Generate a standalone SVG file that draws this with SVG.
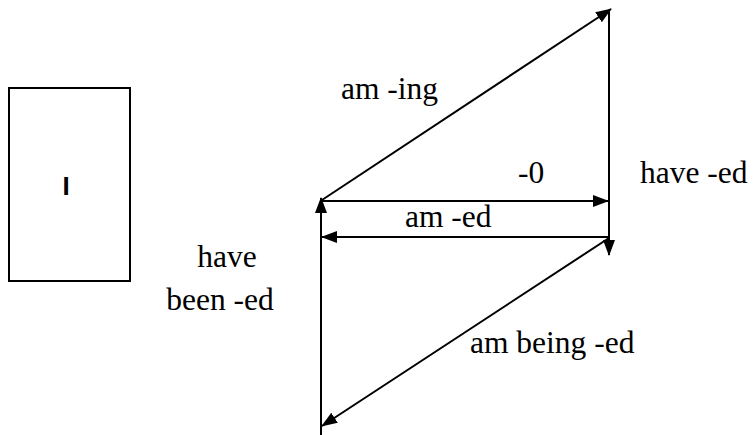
<svg xmlns="http://www.w3.org/2000/svg" width="754" height="435" viewBox="0 0 754 435">
<defs>
<marker id="ah" markerUnits="userSpaceOnUse" markerWidth="16" markerHeight="12" refX="15" refY="6" orient="auto">
<path d="M0,0 L16,6 L0,12 z" fill="#000"/>
</marker>
<style>
.c{stroke:#000;stroke-width:2;fill:none;marker-end:url(#ah)}
</style>
</defs>
<rect width="754" height="435" fill="#fff"/>
<g id="node-I">
<rect x="9" y="88" width="121" height="193" fill="#fff" stroke="#000" stroke-width="2"/>
<text x="66" y="195" text-anchor="middle" font-family="'Liberation Sans', Arial, sans-serif" font-weight="bold" font-size="26">I</text>
</g>
<g id="connectors">
<line class="c" x1="322" y1="200" x2="611" y2="9"/>
<line class="c" x1="609" y1="10" x2="609" y2="255"/>
<line class="c" x1="322" y1="201" x2="608" y2="201"/>
<line class="c" x1="609" y1="237" x2="322" y2="237"/>
<line class="c" x1="609" y1="238" x2="322" y2="426"/>
<line class="c" x1="321" y1="435" x2="321" y2="198"/>
</g>
<g id="labels" font-family="'Liberation Serif', 'Times New Roman', serif" font-size="31.5" fill="#000">
<text x="341" y="99">am -ing</text>
<text x="518" y="183">-0</text>
<text x="640" y="183">have -ed</text>
<text x="405" y="227">am -ed</text>
<text x="470" y="353">am being -ed</text>
<text x="227" y="267" text-anchor="middle">have</text>
<text x="220" y="310" text-anchor="middle">been -ed</text>
</g>
</svg>
